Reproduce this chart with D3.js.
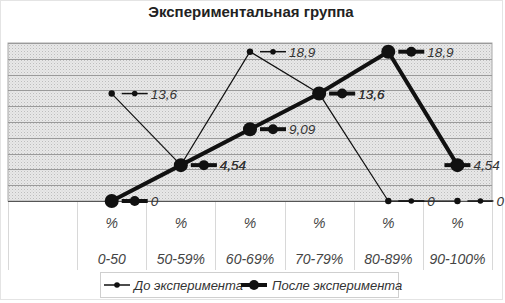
<!DOCTYPE html>
<html><head><meta charset="utf-8">
<script src="https://cdn.jsdelivr.net/npm/d3@7"></script>
<style>body{margin:0;background:#fff}svg{display:block}</style>
</head><body>
<script>
const title = "Экспериментальная группа";
const categories = ["", "0-50", "50-59%", "60-69%", "70-79%", "80-89%", "90-100%"];
const topLabels = ["", "%", "%", "%", "%", "%", "%"];
const seriesNames = ["До эксперимента", "После эксперимента"];
const before = [null, 13.6, 4.54, 18.9, 13.6, 0, 0];
const after = [null, 0, 4.54, 9.09, 13.6, 18.9, 4.54];
const yTicks = [0, 2, 4, 6, 8, 10, 12, 14, 16, 18, 20];

const W = 505, H = 303;
const plot = {l: 8, r: 492, t: 43, b: 201};
const svg = d3.select("body").append("svg").attr("width", W).attr("height", H);
const font = "Arial, 'Liberation Sans', sans-serif";

// outer chart border
svg.append("rect").attr("x", 0.5).attr("y", 0.5).attr("width", W - 3).attr("height", H - 4)
  .attr("fill", "#fff").attr("stroke", "#e4e4e4");

// title
svg.append("text").attr("x", 251).attr("y", 17).attr("text-anchor", "middle")
  .attr("font-family", font).attr("font-weight", "bold").attr("font-size", 15)
  .attr("fill", "#222").text(title);

const x = d3.scaleBand().domain(categories.map((c, i) => i)).range([plot.l, plot.r]).paddingInner(0).paddingOuter(0);
const cx = i => x(i) + x.bandwidth() / 2;
const y = d3.scaleLinear().domain([0, 20]).range([plot.b, plot.t]);

// texture pattern
const defs = svg.append("defs");
const pat = defs.append("pattern").attr("id", "tex").attr("width", 3).attr("height", 3).attr("patternUnits", "userSpaceOnUse");
pat.append("rect").attr("width", 3).attr("height", 3).attr("fill", "#e8e8e8");
pat.append("rect").attr("x", 0).attr("y", 0).attr("width", 1).attr("height", 1).attr("fill", "#bdbdbd");
pat.append("rect").attr("x", 1.5).attr("y", 1.5).attr("width", 1).attr("height", 1).attr("fill", "#d0d0d0");

svg.append("rect").attr("x", plot.l).attr("y", plot.t).attr("width", plot.r - plot.l).attr("height", plot.b - plot.t)
  .attr("fill", "url(#tex)").attr("stroke", "#a8a8a8");

// gridlines
svg.append("g").selectAll("line").data(yTicks.slice(1)).join("line")
  .attr("x1", plot.l).attr("x2", plot.r).attr("y1", d => Math.round(y(d)) + 0.5).attr("y2", d => Math.round(y(d)) + 0.5)
  .attr("stroke", "#9a9a9a").attr("stroke-width", 1);

// category axis (multi-level) separators
const seps = categories.map((c, i) => x(i)).concat([plot.r]);
svg.append("g").selectAll("line").data(seps).join("line")
  .attr("x1", d => Math.round(d) + 0.5).attr("x2", d => Math.round(d) + 0.5)
  .attr("y1", plot.b).attr("y2", 270).attr("stroke", "#d8d8d8");
// axis line
svg.append("line").attr("x1", plot.l).attr("x2", plot.r).attr("y1", plot.b + 0.5).attr("y2", plot.b + 0.5)
  .attr("stroke", "#555");

svg.append("g").selectAll("text").data(topLabels).join("text")
  .attr("x", (d, i) => cx(i)).attr("y", 228).attr("text-anchor", "middle")
  .attr("font-family", font).attr("font-style", "italic").attr("font-size", 14).attr("fill", "#444").text(d => d);
svg.append("g").selectAll("text").data(categories).join("text")
  .attr("x", (d, i) => cx(i)).attr("y", 264).attr("text-anchor", "middle")
  .attr("font-family", font).attr("font-style", "italic").attr("font-size", 14).attr("fill", "#444").text(d => d);

const styles = [
  {data: before, lw: 1.2, r: 3.2, kr: 2.8, klw: 1.5},
  {data: after, lw: 4, r: 7, kr: 5, klw: 4}
];
const line = d3.line().defined(d => d.v != null).x(d => cx(d.i)).y(d => y(d.v));

styles.forEach(s => {
  const pts = s.data.map((v, i) => ({v, i}));
  svg.append("path").datum(pts).attr("d", line).attr("fill", "none").attr("stroke", "#111")
    .attr("stroke-width", s.lw).attr("stroke-linejoin", "miter");
});
styles.forEach(s => {
  const pts = s.data.map((v, i) => ({v, i})).filter(d => d.v != null);
  svg.append("g").selectAll("circle").data(pts).join("circle")
    .attr("cx", d => cx(d.i)).attr("cy", d => y(d.v)).attr("r", s.r).attr("fill", "#111");
});
// data labels with legend keys
const fmt = v => String(v).replace(".", ",");
styles.forEach(s => {
  const pts = s.data.map((v, i) => ({v, i})).filter(d => d.v != null);
  const g = svg.append("g").selectAll("g").data(pts).join("g")
    .attr("transform", d => {
      let kx = cx(d.i) + 10;
      if (kx + 55 > plot.r + 10 && d.v > 0) kx = cx(d.i) - 13;
      return `translate(${kx},${y(d.v)})`;
    });
  g.append("line").attr("x1", 0).attr("x2", 26).attr("y1", 0).attr("y2", 0)
    .attr("stroke", "#111").attr("stroke-width", s.klw);
  g.append("circle").attr("cx", 13).attr("cy", 0).attr("r", s.kr).attr("fill", "#111");
  g.append("text").attr("x", 29).attr("y", 5).attr("font-family", font).attr("font-style", "italic")
    .attr("font-size", 13.5).attr("fill", "#333").text(d => fmt(d.v));
});

// legend
const lg = svg.append("g");
lg.append("rect").attr("x", 100.5).attr("y", 272.5).attr("width", 298).attr("height", 25)
  .attr("fill", "#fff").attr("stroke", "#cfcfcf");
const legItems = [{x: 104, tx: 134, s: styles[0]}, {x: 241, tx: 272, s: styles[1]}];
legItems.forEach((it, k) => {
  lg.append("line").attr("x1", it.x).attr("x2", it.x + 26).attr("y1", 285).attr("y2", 285)
    .attr("stroke", "#111").attr("stroke-width", it.s.klw);
  lg.append("circle").attr("cx", it.x + 13).attr("cy", 285).attr("r", it.s.kr).attr("fill", "#111");
  lg.append("text").attr("x", it.tx).attr("y", 290).attr("font-family", font).attr("font-style", "italic")
    .attr("font-size", 13).attr("fill", "#333").text(seriesNames[k]);
});
</script>
</body></html>
